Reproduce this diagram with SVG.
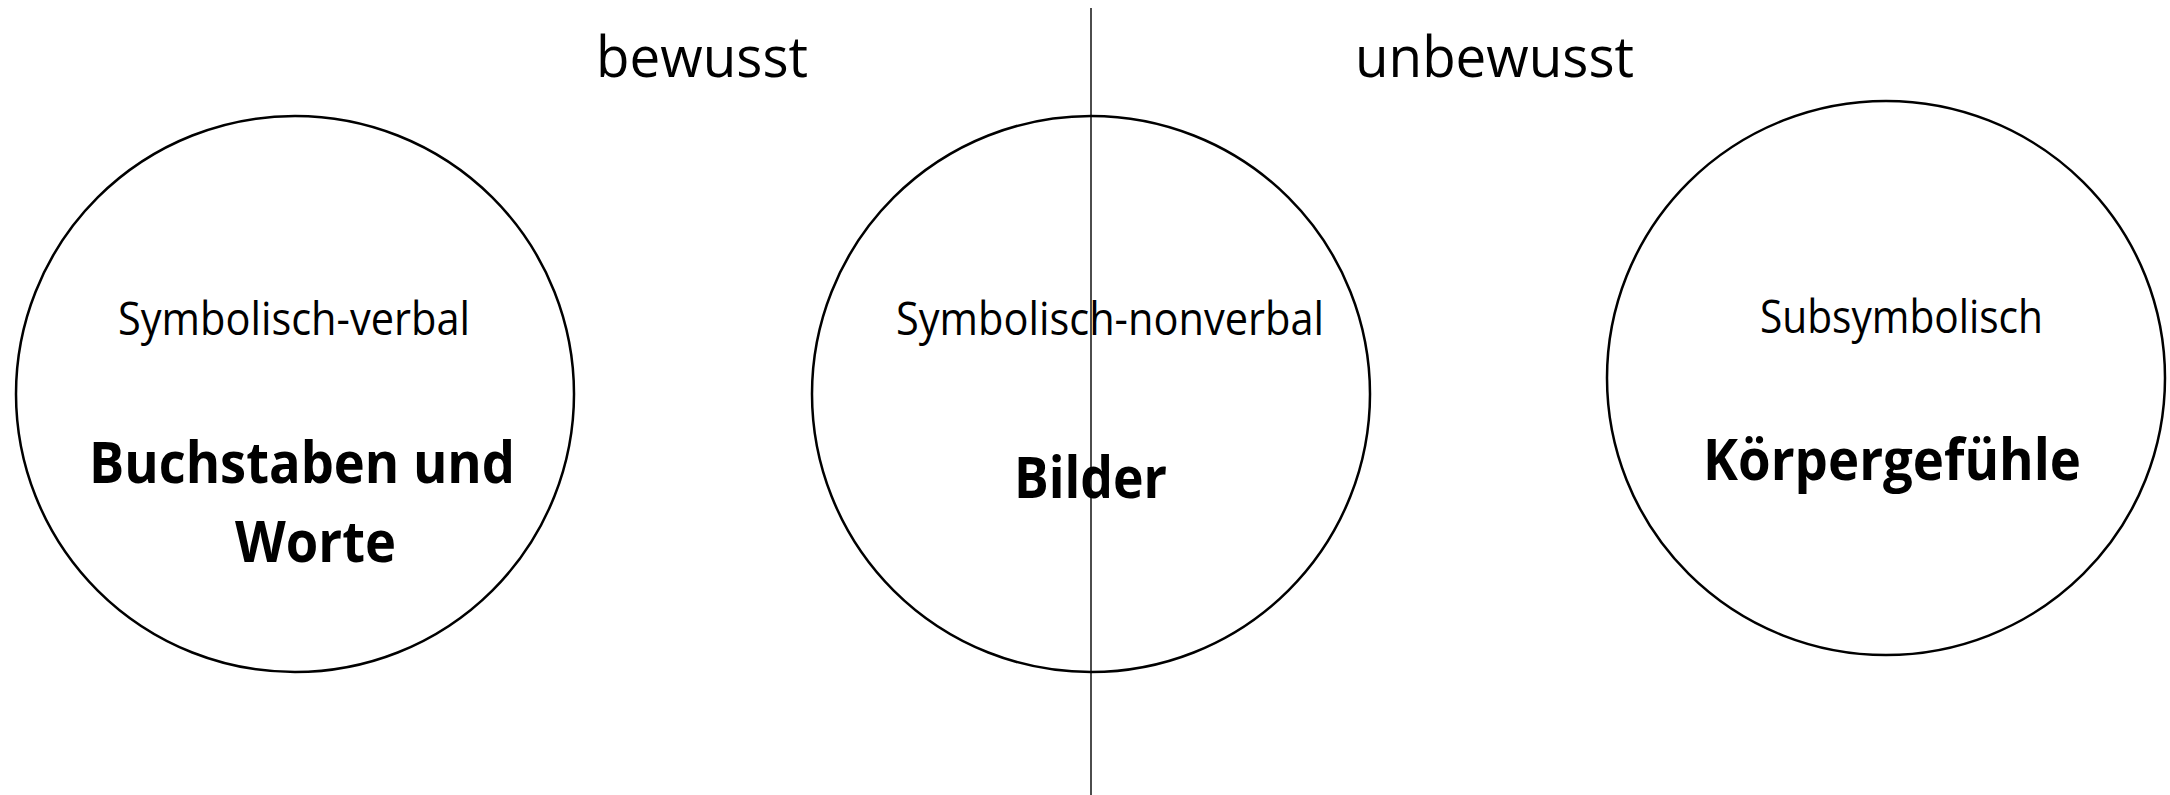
<svg xmlns="http://www.w3.org/2000/svg" width="2170" height="795" viewBox="0 0 2170 795">
<style>
.circ{fill:none;stroke:#000;stroke-width:2.5}
.head{font-family:"Open Sans","Liberation Sans",sans-serif;font-size:56px;fill:#000}
.sub{font-family:"Open Sans","Liberation Sans",sans-serif;font-size:45px;fill:#000}
.main{font-family:"Open Sans","Liberation Sans",sans-serif;font-size:58px;font-weight:bold;fill:#000}
.div{stroke:#000;stroke-width:1.4}
</style>
<rect width="2170" height="795" fill="#fff"/>
<g id="labels">
<text class="head" x="596" y="77" textLength="212" lengthAdjust="spacingAndGlyphs">bewusst</text>
<text class="head" x="1355" y="77" textLength="279" lengthAdjust="spacingAndGlyphs">unbewusst</text>
</g>
<g id="node-verbal">
<ellipse class="circ" cx="295" cy="394" rx="279" ry="278"/>
<text class="sub" x="118" y="335" textLength="352" lengthAdjust="spacingAndGlyphs">Symbolisch-verbal</text>
<text class="main" x="89" y="483" textLength="426" lengthAdjust="spacingAndGlyphs">Buchstaben und</text>
<text class="main" x="235" y="562" textLength="161" lengthAdjust="spacingAndGlyphs">Worte</text>
</g>
<g id="node-nonverbal">
<ellipse class="circ" cx="1091" cy="394" rx="279" ry="278"/>
<text class="sub" x="896" y="335" textLength="428" lengthAdjust="spacingAndGlyphs">Symbolisch-nonverbal</text>
<text class="main" x="1014" y="498" textLength="153" lengthAdjust="spacingAndGlyphs">Bilder</text>
</g>
<g id="node-subsymbolisch">
<ellipse class="circ" cx="1886" cy="378" rx="279" ry="277"/>
<text class="sub" x="1760" y="333" textLength="283" lengthAdjust="spacingAndGlyphs">Subsymbolisch</text>
<text class="main" x="1703" y="480" textLength="378" lengthAdjust="spacingAndGlyphs">Körpergefühle</text>
</g>
<g id="connectors">
<line class="div" x1="1091" y1="8" x2="1091" y2="795"/>
</g>
</svg>
